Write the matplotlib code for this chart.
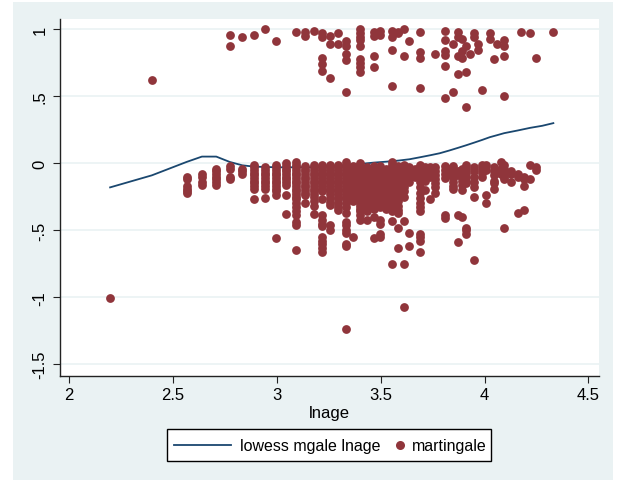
"""Martingale residuals vs lnage with lowess smooth (Stata s2color look)."""

import matplotlib
matplotlib.use("Agg")
import matplotlib.pyplot as plt
from matplotlib.lines import Line2D
from matplotlib.patches import Rectangle
import numpy as np

# ---- data -------------------------------------------------------
# martingale residuals, grouped by lnage value (ln of integer age)
upper_cols = [
    (2.398, [0.62]),
    (2.773, [0.96, 0.88]),
    (2.833, [0.94]),
    (2.890, [0.96]),
    (2.944, [1.00]),
    (2.996, [0.91]),
    (3.091, [0.98]),
    (3.135, [0.98, 0.95]),
    (3.178, [0.99]),
    (3.219, [0.97, 0.94, 0.79, 0.74, 0.69]),
    (3.258, [0.95, 0.89, 0.64]),
    (3.296, [0.97, 0.89]),
    (3.332, [0.91, 0.88, 0.82, 0.77, 0.53]),
    (3.401, [1.00, 0.97, 0.94, 0.92, 0.88, 0.78, 0.75, 0.72, 0.68]),
    (3.466, [0.98, 0.95, 0.80, 0.72]),
    (3.497, [0.99, 0.96]),
    (3.555, [0.99, 0.94, 0.85, 0.58]),
    (3.584, [0.97, 0.98]),
    (3.611, [1.00, 0.80]),
    (3.638, [0.91]),
    (3.689, [0.98, 0.83, 0.79, 0.56]),
    (3.761, [0.82]),
    (3.807, [0.99, 0.92, 0.84, 0.81, 0.73, 0.49]),
    (3.850, [0.89, 0.53]),
    (3.871, [0.98, 0.94, 0.80, 0.67]),
    (3.892, [0.93, 0.84, 0.79]),
    (3.912, [0.88, 0.68, 0.42]),
    (3.932, [0.82]),
    (3.951, [0.97, 0.94]),
    (3.970, [0.89, 0.85]),
    (3.989, [0.55]),
    (4.025, [0.97, 0.93]),
    (4.043, [0.78]),
    (4.060, [0.89]),
    (4.094, [0.92, 0.88, 0.80, 0.50]),
    (4.174, [0.98]),
    (4.220, [0.97]),
    (4.248, [0.79]),
    (4.331, [0.98]),
]

lower_cols = [
    (2.197, [-1.01]),
    (2.565, [-0.10, -0.12, -0.17, -0.19, -0.21, -0.22]),
    (2.639, [-0.08, -0.10, -0.14, -0.16]),
    (2.708, [-0.04, -0.06, -0.08, -0.10, -0.12, -0.14, -0.16]),
    (2.773, [-0.02, -0.04, -0.10, -0.12]),
    (2.833, [-0.04, -0.06, -0.08]),
    (2.890, [-0.01, -0.03, -0.05, -0.07, -0.09, -0.11, -0.13, -0.15,
             -0.17, -0.19, -0.27]),
    (2.944, [-0.03, -0.05, -0.07, -0.09, -0.11, -0.13, -0.15, -0.17,
             -0.19, -0.26]),
    (2.996, [-0.01, -0.03, -0.05, -0.07, -0.09, -0.11, -0.13, -0.15,
             -0.17, -0.19, -0.21, -0.24, -0.56]),
    (3.045, [0.00, -0.02, -0.04, -0.06, -0.08, -0.10, -0.12, -0.14,
             -0.16, -0.24, -0.38]),
    (3.091, [0.01, -0.01, -0.03, -0.05, -0.07, -0.09, -0.11, -0.13,
             -0.15, -0.17, -0.19, -0.21, -0.23, -0.25, -0.27, -0.30,
             -0.33, -0.36, -0.39, -0.44, -0.46, -0.65]),
    (3.135, [-0.02, -0.04, -0.06, -0.08, -0.10, -0.12, -0.14, -0.16,
             -0.18, -0.20, -0.22, -0.24, -0.30]),
    (3.178, [-0.01, -0.03, -0.05, -0.07, -0.09, -0.11, -0.13, -0.15,
             -0.17, -0.19, -0.21, -0.23, -0.25, -0.28, -0.32, -0.38]),
    (3.219, [-0.01, -0.03, -0.05, -0.07, -0.09, -0.11, -0.13, -0.15,
             -0.17, -0.19, -0.21, -0.27, -0.39, -0.42, -0.45, -0.47,
             -0.55, -0.58, -0.60, -0.63, -0.66]),
    (3.258, [-0.01, -0.03, -0.05, -0.07, -0.09, -0.11, -0.13, -0.15,
             -0.17, -0.19, -0.21, -0.23, -0.26, -0.29, -0.31, -0.46,
             -0.50]),
    (3.296, [-0.01, -0.03, -0.05, -0.07, -0.09, -0.11, -0.13, -0.15,
             -0.17, -0.19, -0.21, -0.23, -0.25, -0.27, -0.30, -0.33,
             -0.35]),
    (3.332, [0.01, -0.01, -0.03, -0.05, -0.07, -0.09, -0.11, -0.13,
             -0.15, -0.17, -0.19, -0.21, -0.23, -0.25, -0.27, -0.30,
             -0.33, -0.37, -0.44, -0.46, -0.50, -0.52, -0.60, -0.62,
             -1.24]),
    (3.367, [-0.02, -0.04, -0.06, -0.08, -0.10, -0.12, -0.14, -0.16,
             -0.18, -0.20, -0.22, -0.25, -0.28, -0.55]),
    (3.401, [0.00, -0.02, -0.04, -0.06, -0.08, -0.10, -0.12, -0.14,
             -0.16, -0.18, -0.20, -0.22, -0.24, -0.26, -0.28, -0.30,
             -0.32, -0.34, -0.36, -0.39, -0.42]),
    (3.434, [-0.03, -0.05, -0.07, -0.09, -0.11, -0.13, -0.15, -0.17,
             -0.19, -0.21, -0.23, -0.26, -0.30, -0.33, -0.36, -0.42]),
    (3.466, [-0.02, -0.04, -0.06, -0.08, -0.10, -0.12, -0.14, -0.16,
             -0.18, -0.20, -0.22, -0.25, -0.28, -0.31, -0.34, -0.40,
             -0.56]),
    (3.497, [-0.02, -0.04, -0.06, -0.08, -0.10, -0.12, -0.14, -0.17,
             -0.20, -0.23, -0.27, -0.30, -0.33, -0.42, -0.45, -0.53,
             -0.55]),
    (3.526, [-0.04, -0.06, -0.08, -0.10, -0.12, -0.14, -0.17, -0.20,
             -0.24, -0.28, -0.31, -0.34]),
    (3.555, [0.01, -0.01, -0.03, -0.05, -0.07, -0.09, -0.11, -0.14,
             -0.18, -0.22, -0.26, -0.30, -0.33, -0.36, -0.43, -0.75]),
    (3.584, [-0.02, -0.05, -0.08, -0.12, -0.17, -0.20, -0.24, -0.28,
             -0.32, -0.35, -0.37, -0.48, -0.63]),
    (3.611, [-0.01, -0.03, -0.05, -0.07, -0.09, -0.12, -0.15, -0.18,
             -0.21, -0.25, -0.43, -0.75, -1.07]),
    (3.638, [-0.03, -0.05, -0.08, -0.11, -0.14, -0.52, -0.62]),
    (3.664, [-0.04, -0.07, -0.10]),
    (3.689, [-0.01, -0.03, -0.05, -0.08, -0.11, -0.14, -0.18, -0.22,
             -0.26, -0.30, -0.33, -0.36, -0.53, -0.55, -0.58, -0.66]),
    (3.714, [-0.03, -0.06, -0.09, -0.13, -0.20]),
    (3.738, [-0.03, -0.06, -0.10, -0.27]),
    (3.761, [-0.03, -0.06, -0.09, -0.12, -0.15, -0.18, -0.22]),
    (3.807, [-0.02, -0.05, -0.08, -0.11, -0.39, -0.41]),
    (3.829, [-0.04, -0.08]),
    (3.850, [-0.02, -0.05, -0.08, -0.11, -0.14, -0.17, -0.19]),
    (3.871, [-0.06, -0.09, -0.39, -0.59]),
    (3.892, [-0.04, -0.07, -0.10, -0.13, -0.16, -0.20, -0.40]),
    (3.912, [-0.01, -0.04, -0.07, -0.10, -0.13, -0.15, -0.48, -0.50,
             -0.53]),
    (3.951, [-0.03, -0.06, -0.10, -0.14, -0.18, -0.25, -0.72]),
    (3.989, [-0.01, -0.04, -0.07, -0.10]),
    (4.007, [-0.01, -0.05, -0.24, -0.30]),
    (4.043, [-0.03, -0.06, -0.09, -0.13, -0.15, -0.19]),
    (4.078, [0.01, -0.04, -0.08]),
    (4.094, [-0.01, -0.04, -0.07, -0.10, -0.12, -0.48]),
    (4.127, [-0.06, -0.08, -0.14]),
    (4.159, [-0.08, -0.10, -0.37]),
    (4.190, [-0.10, -0.12, -0.17, -0.35]),
    (4.220, [-0.01, -0.12]),
    (4.248, [-0.03, -0.05]),
]

# lowess smooth of mgale on lnage
lowess_x = [2.197, 2.398, 2.565, 2.639, 2.708, 2.773, 2.833, 2.890,
            2.996, 3.091, 3.178, 3.258, 3.332, 3.401, 3.466, 3.526,
            3.584, 3.638, 3.689, 3.738, 3.784, 3.829, 3.871, 3.912,
            3.951, 3.989, 4.025, 4.060, 4.094, 4.159, 4.220, 4.277,
            4.331]
lowess_y = [-0.18, -0.09, 0.01, 0.05, 0.05, 0.01, -0.015, -0.025,
            -0.03, -0.03, -0.03, -0.025, -0.015, -0.005, 0.005, 0.012,
            0.02, 0.03, 0.045, 0.06, 0.075, 0.095, 0.115, 0.135,
            0.155, 0.175, 0.195, 0.21, 0.225, 0.245, 0.265, 0.28,
            0.30]

xticks = [2, 2.5, 3, 3.5, 4, 4.5]
xticklabels = ["2", "2.5", "3", "3.5", "4", "4.5"]
yticks = [1, 0.5, 0, -0.5, -1, -1.5]
yticklabels = ["1", ".5", "0", "-.5", "-1", "-1.5"]
legend_labels = ["lowess mgale lnage", "martingale"]

NAVY = "#1A476F"
MAROON = "#90353B"
BLUISH = "#EAF2F3"

plt.rcParams["font.family"] = ["Liberation Sans", "DejaVu Sans"]

mx, my = [], []
for x, ys in upper_cols + lower_cols:
    mx += [x] * len(ys)
    my += ys
mx = np.array(mx)
my = np.array(my)

W, H = 623, 481


def fx(px):
    return px / W


def fy(py):                      # pixel row (from top) -> figure fraction
    return 1 - py / H


fig = plt.figure(figsize=(W / 100, H / 100), dpi=100, facecolor="white")
# graph region (light bluish) with thin white margin like the source
fig.patches.append(Rectangle((fx(13), 0), 600 / W, 478 / H,
                             transform=fig.transFigure, facecolor=BLUISH,
                             edgecolor="none", zorder=-10))

ax = fig.add_axes([fx(60), fy(376.7), 539 / W, 356.7 / H])
ax.set_zorder(5)
ax.set_facecolor("white")
ax.set_xlim(1.9557, 4.5508)
ax.set_ylim(-1.587, 1.078)

for v in yticks:
    ax.axhline(v, color=BLUISH, linewidth=1.2, zorder=1)

ax.plot(lowess_x, lowess_y, color=NAVY, linewidth=1.3, zorder=3)
ax.scatter(mx, my, s=40, color=MAROON, linewidths=0, zorder=4)

for s in ("top", "right"):
    ax.spines[s].set_visible(False)
for s in ("left", "bottom"):
    ax.spines[s].set_color("#222222")
    ax.spines[s].set_linewidth(1.0)

ax.set_xticks(xticks)
ax.set_xticklabels(xticklabels)
ax.set_yticks(yticks)
ax.set_yticklabels(yticklabels, rotation=90, va="center")
ax.tick_params(axis="both", direction="out", length=5, width=0.8,
               color="#222222", labelsize=12)
ax.tick_params(axis="x", pad=3)
ax.tick_params(axis="y", pad=4)
ax.set_xlabel("lnage", fontsize=12, labelpad=2)

# legend box drawn by hand (Stata keys: long line key, single dot key)
fig.patches.append(Rectangle((fx(167), fy(462)), 324 / W, 32 / H,
                             transform=fig.transFigure, facecolor="white",
                             edgecolor="black", linewidth=1.0, zorder=6))
ly = fy(446)
fig.lines.append(Line2D([fx(174), fx(231)], [ly, ly], color=NAVY,
                        linewidth=1.3, transform=fig.transFigure,
                        zorder=7))
fig.lines.append(Line2D([fx(400)], [ly], marker="o", markersize=6.5,
                        markeredgewidth=0, color=MAROON,
                        transform=fig.transFigure, zorder=7))
fig.text(fx(240), ly, legend_labels[0], fontsize=11.5, va="center",
         ha="left", zorder=8)
fig.text(fx(412), ly, legend_labels[1], fontsize=11.5, va="center",
         ha="left", zorder=8)

fig.savefig("out.png", dpi=100, facecolor="white")
